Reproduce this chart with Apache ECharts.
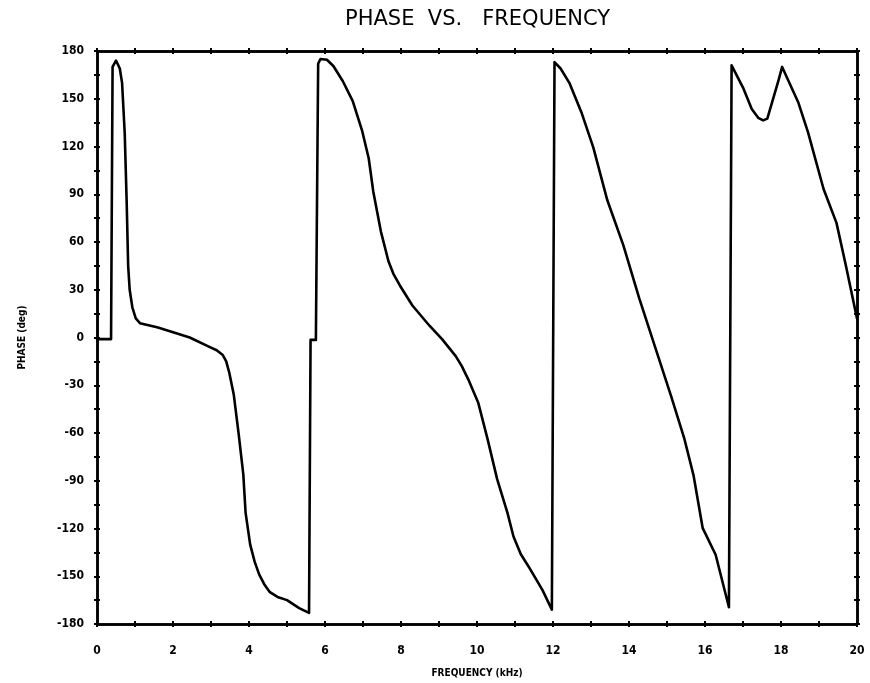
<!DOCTYPE html>
<html>
<head>
<meta charset="utf-8">
<script src="https://cdn.jsdelivr.net/npm/echarts@6/dist/echarts.min.js"></script>
<style>
html,body{margin:0;padding:0;background:#fff;}
#chart{width:870px;height:683px;}
</style>
</head>
<body>
<div id="chart"></div>
<script>
// Frequency (kHz) samples
var freq = [
  0.00, 0.37, 0.41, 0.50, 0.60, 0.66, 0.73, 0.78, 0.82, 0.86, 0.93, 1.02, 1.13, 1.58, 1.92, 2.44, 2.97, 3.15, 3.31,
  3.40, 3.48, 3.60, 3.73, 3.85, 3.91, 4.03, 4.15, 4.27, 4.40, 4.55, 4.75, 5.00, 5.32, 5.58,
  5.62, 5.76, 5.82, 5.88, 6.05, 6.22, 6.47, 6.73, 6.98, 7.15, 7.27, 7.47, 7.67, 7.80, 7.97, 8.30, 8.75,
  9.08, 9.44, 9.60, 9.77, 10.03, 10.28, 10.53, 10.80, 10.96, 11.15, 11.36, 11.72, 11.97,
  12.04, 12.20, 12.43, 12.76, 13.06, 13.43, 13.85, 14.27, 14.69, 15.11, 15.45, 15.70, 15.94, 16.28, 16.63,
  16.70, 17.00, 17.23, 17.40, 17.53, 17.64, 17.94, 18.03, 18.45, 18.71, 19.12, 19.46, 19.70, 19.95, 20.00
];
// Phase (deg) samples
var phase = [
  -1, -1, 170, 174, 169, 160, 128, 86, 45, 30, 19, 12, 9, 6.5, 4, 0, -6, -8, -11,
  -15, -22, -36, -61, -86, -110, -130, -141, -149, -155, -160, -163, -165, -170, -173,
  -1.5, -1.5, 172, 175, 174.5, 170.6, 161, 148.5, 129.6, 112.6, 91.8, 66.7, 47.9, 40, 32.7, 20.1, 7.4,
  -1, -11.7, -18, -26.3, -40.8, -64, -89, -110, -125, -136, -144, -158.6, -171,
  173, 169, 160, 140.7, 119.4, 86.2, 58, 24.6, -6.2, -37, -63, -86.8, -119.8, -136.5, -169.5,
  171, 157, 143.6, 138, 136.4, 137.5, 162, 170, 148, 129, 93.3, 72, 46, 17.6, 12
];
var xTicks = {min: 0, max: 20, interval: 2};
var yTicks = {min: -180, max: 180, interval: 30};
var titleText = 'PHASE  VS.   FREQUENCY';
var xName = 'FREQUENCY (kHz)';
var yName = 'PHASE (deg)';

var pts = freq.map(function (f, i) { return [f, phase[i]]; });

var FONT = '"DejaVu Sans Condensed","DejaVu Sans",sans-serif';
var LINE = {show: true, onZero: false, lineStyle: {color: '#000', width: 2.5}};
var LABEL_FONT = {color: '#000', fontWeight: 'bold', fontSize: 12, fontFamily: FONT};

function xAx(pos, inside, labels) {
  var a = {
    type: 'value', position: pos, min: xTicks.min, max: xTicks.max, interval: xTicks.interval,
    axisLine: LINE,
    axisTick: {show: true, inside: inside, length: 3, lineStyle: {color: '#000', width: 2}},
    minorTick: {show: true, splitNumber: 2, length: 3, lineStyle: {color: '#000', width: 2}},
    splitLine: {show: false}, minorSplitLine: {show: false},
    axisLabel: labels ? Object.assign({show: true, margin: 21}, LABEL_FONT) : {show: false}
  };
  if (labels) {
    a.name = xName; a.nameLocation = 'middle'; a.nameGap = 44;
    a.nameTextStyle = {color: '#000', fontWeight: 'bold', fontSize: 10, fontFamily: FONT};
  }
  return a;
}
function yAx(pos, inside, labels) {
  var a = {
    type: 'value', position: pos, min: yTicks.min, max: yTicks.max, interval: yTicks.interval,
    axisLine: LINE,
    axisTick: {show: true, inside: inside, length: 3, lineStyle: {color: '#000', width: 2}},
    minorTick: {show: true, splitNumber: 2, length: 3, lineStyle: {color: '#000', width: 2}},
    splitLine: {show: false}, minorSplitLine: {show: false},
    axisLabel: labels ? Object.assign({show: true, margin: 13}, LABEL_FONT) : {show: false}
  };
  if (labels) {
    a.name = yName; a.nameLocation = 'middle'; a.nameGap = 70; a.nameRotate = 90;
    a.nameTextStyle = {color: '#000', fontWeight: 'bold', fontSize: 10, fontFamily: FONT};
  }
  return a;
}

var chart = echarts.init(document.getElementById('chart'), null, {renderer: 'canvas'});
chart.setOption({
  backgroundColor: '#fff',
  animation: false,
  grid: {left: 97, right: 13, top: 51, bottom: 57, containLabel: false},
  graphic: [{
    type: 'text', left: 345, top: 9,
    style: {text: titleText, fill: '#000', fontSize: 21, fontFamily: '"DejaVu Sans",sans-serif', fontWeight: 'normal'}
  }],
  xAxis: [xAx('bottom', false, true), xAx('bottom', true, false), xAx('top', false, false), xAx('top', true, false)],
  yAxis: [yAx('left', false, true), yAx('left', true, false), yAx('right', false, false), yAx('right', true, false)],
  series: [{
    type: 'line', data: pts, xAxisIndex: 0, yAxisIndex: 0,
    showSymbol: false, symbol: 'none', smooth: false,
    lineStyle: {color: '#000', width: 2.6, join: 'round', cap: 'round'}
  }]
});
</script>
</body>
</html>
